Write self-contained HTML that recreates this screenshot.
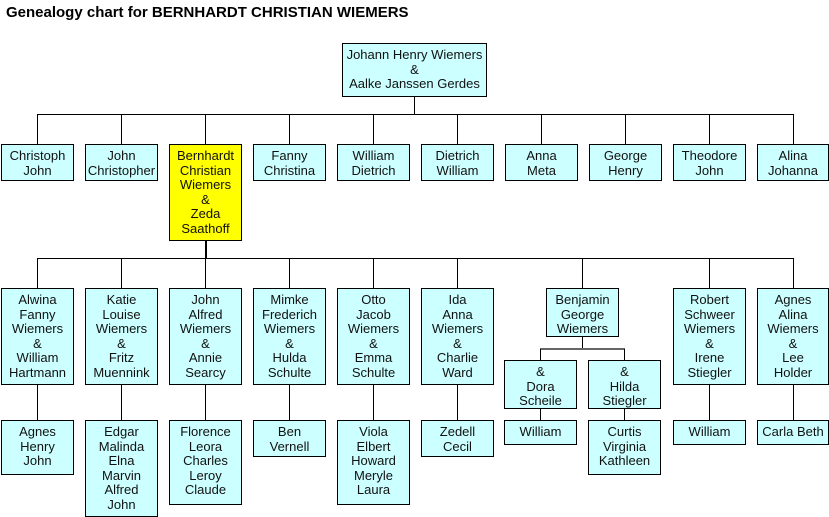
<!DOCTYPE html>
<html><head><meta charset="utf-8"><style>
body{margin:0;background:#fff;width:829px;height:517px;position:relative;overflow:hidden;font-family:"Liberation Sans",Arial,sans-serif;}
.b{position:absolute;box-sizing:border-box;border:1px solid #000;background:#ccffff;text-align:center;font-size:13px;line-height:14.6px;padding-top:4px;color:#111;white-space:nowrap;}
.h{position:absolute;height:1px;background:#000;}
.v{position:absolute;width:1px;background:#000;}
.t{position:absolute;left:6px;top:4px;font-weight:bold;font-size:15px;}
</style></head><body>
<div class="t">Genealogy chart for BERNHARDT CHRISTIAN WIEMERS</div>

<div class="b" style="left:342px;top:43px;width:145px;height:54px;">Johann Henry Wiemers<br>&amp;<br>Aalke Janssen Gerdes</div>
<div class="v" style="left:414px;top:96px;height:18px"></div>
<div class="h" style="left:37px;top:114px;width:757px"></div>

<div class="v" style="left:37px;top:114px;height:30px"></div>
<div class="v" style="left:121px;top:114px;height:30px"></div>
<div class="v" style="left:205px;top:114px;height:30px"></div>
<div class="v" style="left:289px;top:114px;height:30px"></div>
<div class="v" style="left:373px;top:114px;height:30px"></div>
<div class="v" style="left:457px;top:114px;height:30px"></div>
<div class="v" style="left:541px;top:114px;height:30px"></div>
<div class="v" style="left:625px;top:114px;height:30px"></div>
<div class="v" style="left:709px;top:114px;height:30px"></div>
<div class="v" style="left:793px;top:114px;height:30px"></div>

<div class="b" style="left:1px;top:144px;width:73px;height:37px">Christoph<br>John</div>
<div class="b" style="left:85px;top:144px;width:73px;height:37px">John<br>Christopher</div>
<div class="b" style="left:169px;top:144px;width:73px;height:97px;background:#ffff00">Bernhardt<br>Christian<br>Wiemers<br>&amp;<br>Zeda<br>Saathoff</div>
<div class="b" style="left:253px;top:144px;width:73px;height:37px">Fanny<br>Christina</div>
<div class="b" style="left:337px;top:144px;width:73px;height:37px">William<br>Dietrich</div>
<div class="b" style="left:421px;top:144px;width:73px;height:37px">Dietrich<br>William</div>
<div class="b" style="left:505px;top:144px;width:73px;height:37px">Anna<br>Meta</div>
<div class="b" style="left:589px;top:144px;width:73px;height:37px">George<br>Henry</div>
<div class="b" style="left:673px;top:144px;width:73px;height:37px">Theodore<br>John</div>
<div class="b" style="left:757px;top:144px;width:72px;height:37px">Alina<br>Johanna</div>

<div class="v" style="left:205px;top:240px;height:18px;width:2px"></div>
<div class="h" style="left:37px;top:258px;width:757px"></div>
<div class="v" style="left:37px;top:258px;height:30px"></div>
<div class="v" style="left:121px;top:258px;height:30px"></div>
<div class="v" style="left:205px;top:258px;height:30px"></div>
<div class="v" style="left:289px;top:258px;height:30px"></div>
<div class="v" style="left:373px;top:258px;height:30px"></div>
<div class="v" style="left:457px;top:258px;height:30px"></div>
<div class="v" style="left:582px;top:258px;height:30px"></div>
<div class="v" style="left:709px;top:258px;height:30px"></div>
<div class="v" style="left:793px;top:258px;height:30px"></div>

<div class="b" style="left:1px;top:288px;width:73px;height:97px">Alwina<br>Fanny<br>Wiemers<br>&amp;<br>William<br>Hartmann</div>
<div class="b" style="left:85px;top:288px;width:73px;height:97px">Katie<br>Louise<br>Wiemers<br>&amp;<br>Fritz<br>Muennink</div>
<div class="b" style="left:169px;top:288px;width:73px;height:97px">John<br>Alfred<br>Wiemers<br>&amp;<br>Annie<br>Searcy</div>
<div class="b" style="left:253px;top:288px;width:73px;height:97px">Mimke<br>Frederich<br>Wiemers<br>&amp;<br>Hulda<br>Schulte</div>
<div class="b" style="left:337px;top:288px;width:73px;height:97px">Otto<br>Jacob<br>Wiemers<br>&amp;<br>Emma<br>Schulte</div>
<div class="b" style="left:421px;top:288px;width:73px;height:97px">Ida<br>Anna<br>Wiemers<br>&amp;<br>Charlie<br>Ward</div>
<div class="b" style="left:546px;top:288px;width:73px;height:49px">Benjamin<br>George<br>Wiemers</div>
<div class="b" style="left:673px;top:288px;width:73px;height:97px">Robert<br>Schweer<br>Wiemers<br>&amp;<br>Irene<br>Stiegler</div>
<div class="b" style="left:757px;top:288px;width:72px;height:97px">Agnes<br>Alina<br>Wiemers<br>&amp;<br>Lee<br>Holder</div>

<div class="v" style="left:582px;top:336px;height:13px"></div>
<div class="h" style="left:540px;top:348px;width:85px;height:2px;background:#666"></div>
<div class="v" style="left:540px;top:349px;height:11px"></div>
<div class="v" style="left:624px;top:349px;height:11px"></div>
<div class="b" style="left:504px;top:360px;width:73px;height:49px">&amp;<br>Dora<br>Scheile</div>
<div class="b" style="left:588px;top:360px;width:73px;height:49px">&amp;<br>Hilda<br>Stiegler</div>

<div class="v" style="left:37px;top:384px;height:36px"></div>
<div class="v" style="left:121px;top:384px;height:36px"></div>
<div class="v" style="left:205px;top:384px;height:36px"></div>
<div class="v" style="left:289px;top:384px;height:36px"></div>
<div class="v" style="left:373px;top:384px;height:36px"></div>
<div class="v" style="left:457px;top:384px;height:36px"></div>
<div class="v" style="left:540px;top:408px;height:12px"></div>
<div class="v" style="left:624px;top:408px;height:12px"></div>
<div class="v" style="left:709px;top:384px;height:36px"></div>
<div class="v" style="left:793px;top:384px;height:36px"></div>

<div class="b" style="left:1px;top:420px;width:73px;height:55px">Agnes<br>Henry<br>John</div>
<div class="b" style="left:85px;top:420px;width:73px;height:97px">Edgar<br>Malinda<br>Elna<br>Marvin<br>Alfred<br>John</div>
<div class="b" style="left:169px;top:420px;width:73px;height:85px">Florence<br>Leora<br>Charles<br>Leroy<br>Claude</div>
<div class="b" style="left:253px;top:420px;width:73px;height:37px">Ben<br>Vernell</div>
<div class="b" style="left:337px;top:420px;width:73px;height:85px">Viola<br>Elbert<br>Howard<br>Meryle<br>Laura</div>
<div class="b" style="left:421px;top:420px;width:73px;height:37px">Zedell<br>Cecil</div>
<div class="b" style="left:504px;top:420px;width:73px;height:25px">William</div>
<div class="b" style="left:588px;top:420px;width:73px;height:55px">Curtis<br>Virginia<br>Kathleen</div>
<div class="b" style="left:673px;top:420px;width:73px;height:25px">William</div>
<div class="b" style="left:757px;top:420px;width:72px;height:25px">Carla Beth</div>
</body></html>
